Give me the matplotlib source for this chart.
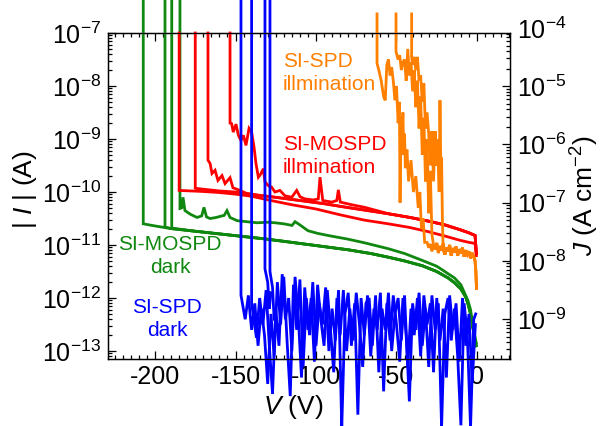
import numpy as np
import matplotlib
matplotlib.use('Agg')
import matplotlib.pyplot as plt
from matplotlib.ticker import MultipleLocator, LogLocator, NullFormatter

plt.rcParams['font.family'] = 'Liberation Sans'
plt.rcParams['mathtext.fontset'] = 'custom'
plt.rcParams['mathtext.rm'] = 'Liberation Sans'
plt.rcParams['mathtext.it'] = 'Liberation Sans:italic'
plt.rcParams['axes.unicode_minus'] = False

# all currents are given as log10(|I| / A)

# SI-MOSPD dark: common leakage line + 4 breakdown voltages
green_base_v = [-207.3, -200, -190, -175, -160, -145, -133, -120, -105, -90, -80, -66,
                -55, -45, -34, -25, -18, -14, -10, -7, -5.5, -4, -3, -2, -1.2, -0.5]
green_base_log = [-10.60, -10.64, -10.69, -10.74, -10.79, -10.84, -10.88, -10.93, -10.99, -11.05,
                  -11.09, -11.16, -11.23, -11.30, -11.39, -11.50, -11.62, -11.71, -11.83, -11.98,
                  -12.12, -12.30, -12.48, -12.65, -12.80, -12.90]
green_bd = [-207.3, -193.8, -189.6]
green_bd_log = [-10.60, -10.66, -10.68]
# the bumpy sweep
green4_v = [-184.5, -184.5, -183.5, -182.6, -181.4, -178, -173.9, -171, -169.6, -168, -165.8,
            -162, -159.6, -157, -155.3, -153.4, -149, -143, -136.6, -130, -125.5, -120, -114.9,
            -113, -110, -105, -99, -92.5, -80, -69.6, -55, -45, -34, -25, -14, -10, -5.6, -4,
            -3, -2, -1, -0.4]
green4_log = [-6.0, -10.31, -10.30, -10.10, -10.35, -10.42, -10.48, -10.45, -10.29, -10.47, -10.50,
              -10.48, -10.46, -10.44, -10.35, -10.48, -10.54, -10.56, -10.58, -10.57, -10.58, -10.60,
              -10.63, -10.56, -10.62, -10.73, -10.78, -10.82, -10.89, -10.96, -11.07, -11.16, -11.29,
              -11.40, -11.62, -11.75, -12.05, -12.22, -12.43, -12.60, -12.77, -12.85]

# SI-MOSPD illumination
red_up_v = [-175, -160, -150, -140, -133, -125, -115, -105, -95, -85, -70, -55, -41.6, -30, -20,
            -10.6, -5, -1.2, -0.4]
red_up_log = [-9.95, -9.98, -10.0, -10.04, -10.07, -10.10, -10.14, -10.18, -10.22, -10.27, -10.34,
              -10.41, -10.48, -10.55, -10.62, -10.71, -10.77, -10.82, -11.16]
red1_v = [-185, -185, -170, -160, -150, -140, -128, -115, -100, -85, -70, -55, -41.6, -30, -20,
          -10.6, -5, -1.2, -0.4]
red1_log = [-7.0, -9.97, -9.99, -10.01, -10.04, -10.08, -10.16, -10.24, -10.32, -10.43, -10.53,
            -10.60, -10.67, -10.75, -10.83, -10.91, -10.95, -10.97, -11.2]
red2_v = [-175, -175]
red2_log = [-7.0, -9.93]
red3_v = [-167.1, -167.1, -165.8, -164.6, -162.7, -160.9, -158.4, -156.5, -153.4, -151.6, -147.2,
          -142.9, -134.8]
red3_log = [-7.0, -9.40, -9.46, -9.65, -9.59, -9.78, -9.69, -9.84, -9.73, -9.92, -9.97, -10.03,
            -10.07]
red4_v = [-153.4, -153.4, -152.4, -151.4, -149.7, -148.2, -146.6, -145.1, -143.5, -141.6, -140,
          -138.5, -137.3, -135.8, -134.3, -132.7, -131.7, -129.6, -127.5, -125.5, -122.4, -119.3,
          -115.1, -112, -109.9, -106.8, -101.7, -98.6, -97.5, -95.8, -90.2, -87.1, -86.1, -84.9,
          -77.8, -69.6]
red4_log = [-7.0, -8.70, -8.71, -8.87, -8.72, -8.93, -9.03, -8.93, -9.12, -8.80, -8.87, -9.15,
            -9.46, -9.72, -9.66, -9.56, -9.81, -9.88, -9.91, -10.00, -9.97, -10.07, -10.10, -9.97,
            -10.09, -10.13, -10.15, -10.13, -9.72, -10.16, -10.19, -10.16, -9.96, -10.19, -10.24,
            -10.29]

# SI-SPD illumination
orange_plat_v = [-31, -30, -29, -28, -27, -26, -25, -24, -23, -22, -21, -20, -19, -18, -17, -16,
                 -15, -14, -13, -12, -11, -10, -9, -8, -7, -6, -5, -4, -3, -2, -1.2, -0.7, -0.3]
orange_plat_log = [-10.95, -11.05, -10.98, -11.12, -11.0, -11.08, -10.96, -11.15, -11.02, -11.1,
                   -10.97, -11.18, -11.05, -11.12, -11.0, -11.2, -11.06, -11.14, -11.03, -11.2,
                   -11.08, -11.16, -11.05, -11.22, -11.1, -11.18, -11.12, -11.25, -11.15, -11.22,
                   -11.3, -11.5, -11.82]
orange1_v = [-62.1, -62.1, -61, -59.5, -58, -57, -56, -55, -54, -53, -52, -51, -50, -49, -48.2,
             -47.8, -47.3, -46.5, -46, -45.5, -45, -44.5, -43.5, -42.5, -41, -39.5, -38, -36.5,
             -35.5, -34.5, -33.5, -32.5]
orange1_log = [-6.64, -7.57, -7.7, -7.9, -8.2, -8.27, -7.6, -7.5, -7.8, -7.65, -7.9, -8.27, -8.0,
               -8.7, -8.3, -10.2, -8.6, -8.9, -8.5, -9.3, -8.9, -9.55, -9.2, -9.8, -9.4, -10.0,
               -9.7, -10.3, -10.0, -10.7, -10.5, -10.95]
orange2_v = [-50.3, -50.3, -49, -48, -47, -46, -45, -44, -43, -42, -41, -40, -39, -38, -37, -36,
             -35, -34, -33, -32, -31, -30, -29, -28, -27]
orange2_log = [-6.64, -7.35, -7.5, -7.42, -7.7, -7.55, -7.5, -7.9, -7.3, -7.8, -7.55, -8.1, -7.7,
               -8.4, -7.9, -8.8, -8.2, -9.3, -8.6, -9.8, -9.0, -10.4, -9.6, -10.8, -11.0]
orange3_v = [-40.6, -40.6, -40, -39, -38, -37, -36, -35, -34, -33, -32, -31, -30, -29, -28, -27,
             -26, -25, -24.5, -23.5, -23, -22.5, -22, -21.5, -21]
orange3_log = [-6.64, -7.45, -7.6, -7.45, -7.7, -7.45, -7.9, -7.8, -8.3, -7.95, -8.8, -8.5, -8.9,
               -9.5, -8.85, -9.8, -8.85, -9.5, -9.0, -10.0, -8.27, -9.5, -9.35, -10.5, -11.1]

# SI-SPD dark (noise floor)
blue1_v = [-146.6, -146.6, -146, -144, -142, -140, -138, -136, -134, -132, -130, -128, -126, -124,
           -122, -120, -118, -116, -114, -112, -110, -108, -106, -104, -102, -100, -98, -96, -94,
           -92, -90, -88, -86, -84, -82, -80, -78, -76, -74, -72, -70, -68, -66, -64, -62, -60,
           -58, -56, -54, -52, -50, -48, -46, -44, -42, -40, -38, -36, -34, -32, -30, -28, -26,
           -24, -22, -20, -18, -16, -14, -12, -10, -8, -6, -4, -2, -0.8]
blue1_log = [-5.5, -11.95, -12.05, -12.4, -11.95, -12.6, -12.1, -12.9, -12.2, -12.7, -13.62, -12.3,
             -13.1, -11.7, -12.5, -11.6, -12.8, -13.85, -11.75, -12.6, -11.65, -13.3, -12.0, -12.7,
             -11.7, -12.9, -12.1, -12.5, -11.8, -13.0, -12.2, -12.8, -11.85, -14.44, -12.3, -11.9,
             -12.9, -12.1, -14.2, -12.0, -12.7, -11.95, -13.1, -12.2, -12.6, -11.9, -13.76, -12.1,
             -12.8, -11.95, -12.5, -13.2, -12.0, -12.7, -13.95, -12.1, -12.6, -11.9, -12.9, -12.2,
             -13.3, -11.95, -12.6, -12.1, -14.44, -12.3, -12.0, -12.8, -12.2, -13.1, -14.4, -12.1,
             -12.7, -14.44, -12.4, -12.3]
blue2_v = [-140, -140, -139, -137, -135, -133, -131, -129, -127, -125, -123, -121, -119, -117,
           -115, -113, -111, -109, -107, -105, -103, -101, -99, -97, -95, -93, -91, -89, -87, -85,
           -83, -81, -79, -77, -75, -73, -71, -69, -67, -65, -63, -61, -59, -57, -55, -53, -51,
           -49, -47, -45, -43, -41, -39, -37, -35, -33, -31, -29, -27, -25, -23, -21, -19, -17,
           -15, -13, -11, -9, -7, -5, -3, -1]
blue2_log = [-5.5, -12.1, -12.3, -12.75, -12.0, -12.5, -11.85, -12.9, -13.81, -12.2, -12.9, -11.55,
             -12.4, -12.0, -13.0, -11.6, -12.35, -13.5, -11.8, -12.6, -12.0, -13.2, -11.75, -12.4,
             -12.9, -11.85, -12.6, -13.4, -12.0, -12.7, -11.85, -13.0, -12.2, -12.8, -11.9, -12.5,
             -13.3, -12.1, -12.0, -12.9, -11.95, -13.4, -12.2, -12.6, -11.9, -13.0, -12.3, -12.0,
             -12.8, -11.95, -13.3, -12.2, -12.7, -12.0, -13.1, -11.95, -12.5, -12.1, -13.4, -12.0,
             -12.8, -12.2, -13.5, -11.95, -12.6, -12.1, -13.2, -12.0, -12.9, -12.3, -13.6, -12.5]
blue3_v = [-131.7, -131.7, -130, -129, -128]
blue3_log = [-5.5, -11.45, -11.7, -12.2, -11.9]
blue4_v = [-128.6, -128.6, -127, -126]
blue4_log = [-5.5, -11.5, -11.8, -12.4]

GREEN = '#108810'
RED = '#ff0000'
ORANGE = '#ff8000'
BLUE = '#0000ff'

fig = plt.figure(figsize=(6.01, 4.26), dpi=100)
ax = fig.add_axes([108/601, 67/426, 402/601, 326/426])


def curva(v, logi, colore):
    ax.plot(v, 10 ** np.array(logi), color=colore, lw=2.0, clip_on=False, zorder=3,
            solid_joinstyle='miter')


# green sweeps: vertical at breakdown, then the leakage line
for bd, bdl in zip(green_bd, green_bd_log):
    vv = [bd, bd] + [v for v in green_base_v if v > bd]
    ll = [-6.0, bdl] + [l for v, l in zip(green_base_v, green_base_log) if v > bd]
    curva(vv, ll, GREEN)
curva(green4_v, green4_log, GREEN)

curva(red1_v, red1_log, RED)
curva(red2_v + red_up_v[1:], red2_log + red_up_log[1:], RED)
curva(red3_v + [v for v in red_up_v if v > red3_v[-1]],
      red3_log + [l for v, l in zip(red_up_v, red_up_log) if v > red3_v[-1]], RED)
curva(red4_v + [v for v in red_up_v if v > red4_v[-1]],
      red4_log + [l for v, l in zip(red_up_v, red_up_log) if v > red4_v[-1]], RED)

curva(orange1_v + orange_plat_v, orange1_log + orange_plat_log, ORANGE)
curva(orange2_v + [v for v in orange_plat_v if v > orange2_v[-1]],
      orange2_log + [l for v, l in zip(orange_plat_v, orange_plat_log) if v > orange2_v[-1]], ORANGE)
curva(orange3_v + [v for v in orange_plat_v if v > orange3_v[-1]],
      orange3_log + [l for v, l in zip(orange_plat_v, orange_plat_log) if v > orange3_v[-1]], ORANGE)

curva(blue1_v, blue1_log, BLUE)
curva(blue2_v, blue2_log, BLUE)
curva(blue3_v, blue3_log, BLUE)
curva(blue4_v, blue4_log, BLUE)

ax.set_yscale('log')
ax.set_xlim(-229.2, 20.5)
ax.set_ylim(10 ** -13.15, 1e-7)
ax.xaxis.set_major_locator(MultipleLocator(50))
ax.xaxis.set_minor_locator(MultipleLocator(5))
ax.yaxis.set_major_locator(LogLocator(base=10, numticks=20))
ax.yaxis.set_minor_locator(LogLocator(base=10, subs=np.arange(2, 10), numticks=20))
ax.yaxis.set_minor_formatter(NullFormatter())
ax.tick_params(axis='both', which='both', direction='in', labelsize=18, width=0.9)
ax.tick_params(which='major', length=5.5)
ax.tick_params(which='minor', length=3)
ax.tick_params(axis='x', which='both', top=True, pad=4)
ax.tick_params(axis='y', which='both', left=True, right=False, pad=5)
for s in ax.spines.values():
    s.set_linewidth(1.0)

ax.set_xlabel(r'$V$ (V)', fontsize=19, labelpad=3, x=0.46)
ax.set_ylabel(r'| $I$ | (A)', fontsize=19, labelpad=2, y=0.52)

# current density axis
ax2 = ax.twinx()
ax2.set_yscale('log')
ax2.set_ylim(10 ** -9.687, 10 ** -4.086)
ax2.yaxis.set_major_locator(LogLocator(base=10, numticks=20))
ax2.yaxis.set_minor_locator(LogLocator(base=10, subs=np.arange(2, 10), numticks=20))
ax2.yaxis.set_minor_formatter(NullFormatter())
ax2.tick_params(axis='y', which='both', direction='in', labelsize=18, width=0.9, pad=5)
ax2.tick_params(which='major', length=5.5)
ax2.tick_params(which='minor', length=3)
ax2.annotate(r'$\mathdefault{10^{-4}}$', xy=(1, 1e-4), xycoords=('axes fraction', 'data'),
             xytext=(5, 0), textcoords='offset points', ha='left', va='center_baseline',
             fontsize=18, annotation_clip=False)
ax2.set_ylabel(r'$J$ (A cm$^{-2}$)', fontsize=19, labelpad=2)

# etichette delle curve
ax.text(-120.5, 10 ** -7.755, 'SI-SPD\nillmination', color=ORANGE, fontsize=15,
        ha='left', va='center', linespacing=1.25)
ax.text(-120.5, 10 ** -9.32, 'SI-MOSPD\nillmination', color=RED, fontsize=15,
        ha='left', va='center', linespacing=1.25)
ax.text(-190.7, 10 ** -11.21, 'SI-MOSPD\ndark', color=GREEN, fontsize=15,
        ha='center', va='center', linespacing=1.25)
ax.text(-192.5, 10 ** -12.4, 'SI-SPD\ndark', color=BLUE, fontsize=15,
        ha='center', va='center', linespacing=1.25)

fig.savefig('out.png', dpi=100)
